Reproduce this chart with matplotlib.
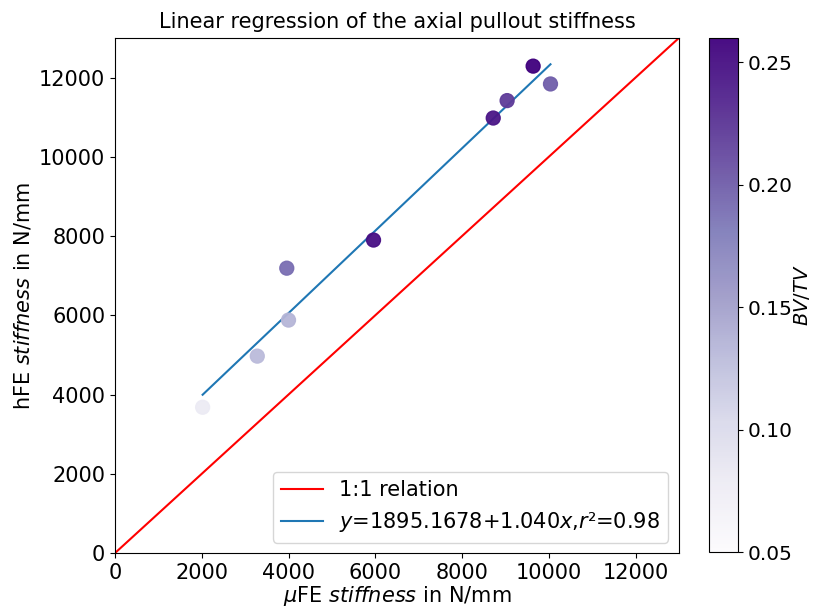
import matplotlib
matplotlib.use("Agg")
import matplotlib.pyplot as plt
import numpy as np

# Data
mu_fe = [2020, 3280, 3960, 4000, 5960, 8720, 9040, 9640, 10040]
h_fe = [3680, 4970, 7190, 5880, 7900, 10980, 11420, 12290, 11840]
bvtv = [0.08, 0.13, 0.19, 0.135, 0.25, 0.245, 0.22, 0.26, 0.20]
intercept = 1895.1678
slope = 1.040
r2 = 0.98
axis_max = 13000

plt.rcParams['font.size'] = 15
fig = plt.figure(figsize=(8.14, 6.10), dpi=100)
ax = fig.add_axes([0.1413, 0.0934, 0.6927, 0.8443])
cax = fig.add_axes([0.8705, 0.095, 0.0356, 0.843])

x_arr = np.array(mu_fe)
ax.plot([0, axis_max], [0, axis_max], color='red', lw=1.5, label='1:1 relation', zorder=1)
xs = np.array([x_arr.min(), x_arr.max()])
ax.plot(xs, intercept + slope * xs, color='#1f77b4', lw=1.5,
        label=r'$y$=%.4f+%.3f$x$,$r$²=%.2f' % (intercept, slope, r2), zorder=2)
sc = ax.scatter(mu_fe, h_fe, c=bvtv, cmap='Purples', vmin=0.05, vmax=0.26, s=100,
                alpha=0.95, zorder=3)

ax.set_xlim(0, axis_max)
ax.set_ylim(0, axis_max)
ax.set_xticks(np.arange(0, 12001, 2000))
ax.set_yticks(np.arange(0, 12001, 2000))
ax.set_title('Linear regression of the axial pullout stiffness', fontsize=15, pad=7)
ax.set_xlabel(r'$\mu$FE $\it{stiffness}$ in N/mm', labelpad=1)
ax.set_ylabel(r'hFE $\it{stiffness}$ in N/mm')
ax.legend(loc='lower right', fontsize=15)

cb = fig.colorbar(sc, cax=cax)
cb.set_ticks([0.05, 0.10, 0.15, 0.20, 0.25])
cb.ax.tick_params(labelsize=14.5)
cb.set_label(r'$BV/TV$', labelpad=0, fontsize=14)

fig.savefig('out.png', dpi=100)
